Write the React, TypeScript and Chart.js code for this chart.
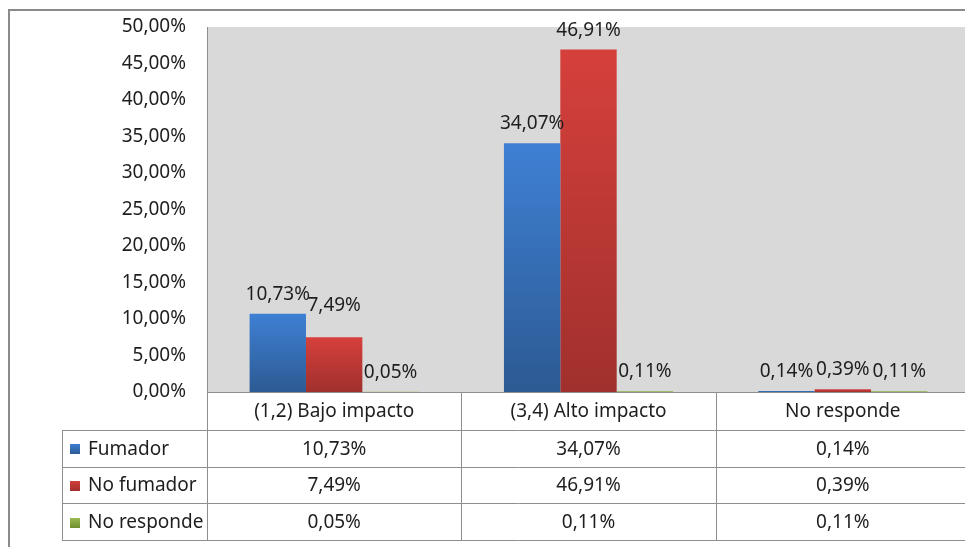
import React, { useEffect, useRef } from "react";
import { Chart, registerables } from "chart.js";

Chart.register(...registerables);

const categories = ["(1,2) Bajo impacto", "(3,4) Alto impacto", "No responde"];
const seriesNames = ["Fumador", "No fumador", "No responde"];
const fumador = [10.73, 34.07, 0.14];
const noFumador = [7.49, 46.91, 0.39];
const noResponde = [0.05, 0.11, 0.11];
const yMin = 0;
const yMax = 50;
const yStep = 5;

const seriesColors: [string, string][] = [
  ["#3f80d4", "#2c5a93"],
  ["#d6403c", "#a0302d"],
  ["#9fc255", "#708f30"],
];

const FONT = '"Noto Sans", "DejaVu Sans", sans-serif';
const TEXT = "#1e1e1e";
const LINE = "#8e8e8e";

const fmt = (v: number) => v.toFixed(2).replace(".", ",") + "%";

function barGradient(ctx: any, idx: number) {
  const chart = ctx.chart;
  const y = chart.scales?.y;
  const [c1, c2] = seriesColors[idx];
  if (!y || ctx.parsed == null) return c1;
  const top = y.getPixelForValue(ctx.parsed.y);
  const bottom = y.getPixelForValue(0);
  if (!isFinite(top) || !isFinite(bottom) || Math.abs(bottom - top) < 0.5) return c1;
  const g = chart.ctx.createLinearGradient(0, top, 0, bottom);
  g.addColorStop(0, c1);
  g.addColorStop(1, c2);
  return g;
}

const tablePlugin = {
  id: "tablePlugin",
  beforeDraw(chart: any) {
    const { ctx, chartArea: a, width, height } = chart;
    ctx.save();
    ctx.fillStyle = "#ffffff";
    ctx.fillRect(0, 0, width, height);
    ctx.fillStyle = "#d9d9d9";
    ctx.fillRect(a.left, a.top, a.right - a.left, a.bottom - a.top);
    ctx.strokeStyle = "#8a8a8a";
    ctx.lineWidth = 2;
    ctx.beginPath();
    ctx.moveTo(9, height);
    ctx.lineTo(9, 10);
    ctx.lineTo(width, 10);
    ctx.stroke();
    ctx.restore();
  },
  afterDraw(chart: any) {
    const { ctx, chartArea: a, width } = chart;
    const xs = chart.scales.x;
    ctx.save();
    // data labels
    ctx.font = `19px ${FONT}`;
    ctx.fillStyle = TEXT;
    ctx.textAlign = "center";
    ctx.textBaseline = "alphabetic";
    chart.data.datasets.forEach((ds: any, di: number) => {
      const meta = chart.getDatasetMeta(di);
      meta.data.forEach((el: any, i: number) => {
        const lift = di === 1 && i === 0 ? 26 : 14;
        ctx.fillText(fmt(ds.data[i]), el.x, el.y - lift);
      });
    });

    // table
    const catRowH = 38;
    const rowH = 36.7;
    const tableLeft = 62;
    const rowsTop = a.bottom + catRowH;
    const tableBottom = rowsTop + rowH * seriesNames.length;
    ctx.strokeStyle = LINE;
    ctx.lineWidth = 1;
    ctx.beginPath();
    for (let r = 0; r <= seriesNames.length; r++) {
      const yy = Math.round(rowsTop + r * rowH) + 0.5;
      ctx.moveTo(tableLeft, yy);
      ctx.lineTo(width, yy);
    }
    ctx.moveTo(tableLeft + 0.5, rowsTop);
    ctx.lineTo(tableLeft + 0.5, tableBottom);
    ctx.moveTo(Math.round(a.left) + 0.5, a.bottom);
    ctx.lineTo(Math.round(a.left) + 0.5, tableBottom);
    for (let i = 0; i < categories.length - 1; i++) {
      const bx = Math.round((xs.getPixelForValue(i) + xs.getPixelForValue(i + 1)) / 2) + 0.5;
      ctx.moveTo(bx, a.bottom);
      ctx.lineTo(bx, tableBottom);
    }
    ctx.stroke();

    ctx.fillStyle = TEXT;
    ctx.textAlign = "center";
    ctx.textBaseline = "middle";
    categories.forEach((c, i) => {
      ctx.fillText(c, xs.getPixelForValue(i), a.bottom + catRowH / 2 + 1);
    });
    chart.data.datasets.forEach((ds: any, di: number) => {
      const cy = rowsTop + rowH * di + rowH / 2 + 1;
      ctx.textAlign = "center";
      ctx.fillStyle = TEXT;
      ds.data.forEach((v: number, i: number) => {
        ctx.fillText(fmt(v), xs.getPixelForValue(i), cy);
      });
      const g = ctx.createLinearGradient(0, cy - 6, 0, cy + 5);
      g.addColorStop(0, seriesColors[di][0]);
      g.addColorStop(1, seriesColors[di][1]);
      ctx.fillStyle = g;
      ctx.fillRect(70, Math.round(cy - 5), 10, 10);
      ctx.fillStyle = TEXT;
      ctx.textAlign = "left";
      ctx.fillText(seriesNames[di], 88, cy);
    });
    ctx.restore();
  },
};

export default function App() {
  const ref = useRef<HTMLCanvasElement | null>(null);
  useEffect(() => {
    document.body.style.margin = "0";
    document.body.style.overflow = "hidden";
    const canvas = ref.current;
    if (!canvas) return;
    const series = [fumador, noFumador, noResponde];
    const chart = new Chart(canvas, {
      type: "bar",
      data: {
        labels: categories,
        datasets: series.map((d, i) => ({
          label: seriesNames[i],
          data: d,
          backgroundColor: (ctx: any) => barGradient(ctx, i),
          borderWidth: 0,
          categoryPercentage: 0.665,
          barPercentage: 1,
        })),
      },
      options: {
        animation: false,
        responsive: false,
        devicePixelRatio: 1,
        layout: { padding: { left: 0, top: 27, right: 5, bottom: 0 } },
        plugins: {
          legend: { display: false },
          tooltip: { enabled: false },
          title: { display: false },
        },
        scales: {
          x: {
            type: "category",
            grid: { display: false },
            border: { display: true, color: LINE, width: 1 },
            ticks: { display: false },
            afterFit: (s: any) => {
              s.height = 155;
            },
          },
          y: {
            min: yMin,
            max: yMax,
            grid: { display: false, drawTicks: false },
            border: { display: true, color: LINE, width: 1 },
            ticks: {
              stepSize: yStep,
              padding: 21,
              color: TEXT,
              font: { family: FONT, size: 19 },
              callback: (v: any) => fmt(Number(v)),
            },
            afterFit: (s: any) => {
              s.width = 207;
              s.paddingTop = 0;
              s.paddingBottom = 0;
            },
          },
        },
      },
      plugins: [tablePlugin],
    } as any);
    return () => chart.destroy();
  }, []);
  return (
    <div style={{ position: "fixed", left: 0, top: 0, width: 975, height: 547 }}>
      <canvas ref={ref} width={975} height={547} style={{ width: 975, height: 547, display: "block" }} />
    </div>
  );
}
